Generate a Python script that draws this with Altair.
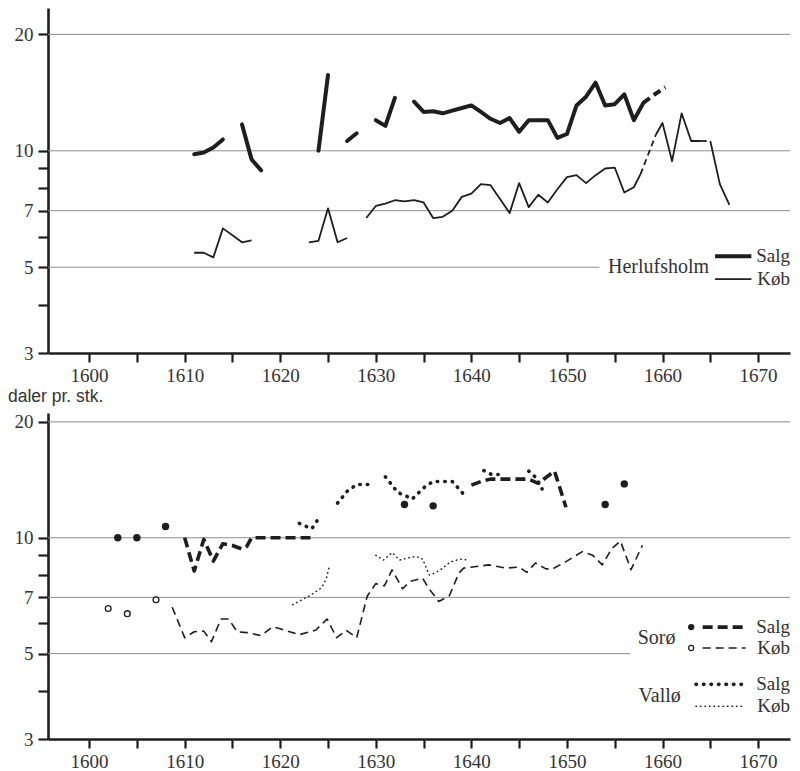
import altair as alt
import pandas as pd

INK = "#1e1e1e"
TXT = "#333333"
GRID = "#8e8e8e"

# ---------------- Herlufsholm (top panel) ----------------
HERL_SALG = [
    ([1611, 1612, 1613, 1614], [9.8, 9.9, 10.2, 10.7]),
    ([1616, 1617, 1618], [11.7, 9.5, 8.9]),
    ([1624, 1625], [10.0, 15.7]),
    ([1627, 1628], [10.6, 11.1]),
    ([1630, 1631, 1632], [12.0, 11.6, 13.7]),
    ([1634, 1635, 1636, 1637, 1638, 1639, 1640, 1641, 1642, 1643, 1644, 1645, 1646,
      1647, 1648, 1649, 1650, 1651, 1652, 1653, 1654, 1655, 1656, 1657, 1658],
     [13.4, 12.6, 12.65, 12.5, 12.7, 12.9, 13.1, 12.6, 12.1, 11.8, 12.15, 11.2, 12.0,
      12.0, 12.0, 10.8, 11.05, 13.1, 13.8, 15.0, 13.1, 13.2, 14.0, 12.0, 13.3]),
]
HERL_SALG_DASHED = [([1658, 1659, 1660.3], [13.3, 13.9, 14.6])]

HERL_KOB = [
    ([1611, 1612, 1613, 1614, 1615, 1616, 1617], [5.45, 5.45, 5.3, 6.3, 6.05, 5.8, 5.87]),
    ([1623, 1624, 1625, 1626, 1627], [5.8, 5.85, 7.1, 5.8, 5.95]),
    ([1629, 1630, 1631, 1632, 1633, 1634, 1635, 1636, 1637, 1638, 1639, 1640, 1641, 1642,
      1643, 1644, 1645, 1646, 1647, 1648, 1649, 1650, 1651, 1652, 1653, 1654, 1655, 1656,
      1657, 1657.7],
     [6.7, 7.2, 7.3, 7.45, 7.4, 7.45, 7.35, 6.7, 6.75, 7.0, 7.6, 7.75, 8.2, 8.15,
      7.5, 6.9, 8.25, 7.15, 7.7, 7.35, 7.95, 8.55, 8.65, 8.25, 8.65, 9.0, 9.05, 7.8,
      8.05, 8.7]),
    ([1659.3, 1660, 1661, 1662, 1663, 1664], [11.0, 11.8, 9.4, 12.5, 10.6, 10.6]),
    ([1665, 1666, 1667], [10.6, 8.2, 7.25]),
]
HERL_KOB_DASHED = [([1657.7, 1659.3], [8.7, 11.0]), ([1664, 1665], [10.6, 10.6])]

# ---------------- Sorø / Vallø (bottom panel) ----------------
SORO_SALG_PT_YEARS = [1603, 1605, 1608, 1633, 1636, 1654, 1656]
SORO_SALG_PT_VALUES = [10.0, 10.0, 10.7, 12.2, 12.1, 12.2, 13.8]
SORO_KOB_PT_YEARS = [1602, 1604, 1607]
SORO_KOB_PT_VALUES = [6.55, 6.35, 6.9]

SORO_SALG = [
    ([1610, 1611, 1612, 1613, 1614, 1615, 1616, 1616.5, 1617, 1623.3],
     [10.0, 8.2, 9.9, 8.7, 9.65, 9.55, 9.35, 9.5, 10.0, 10.0]),
    ([1640, 1641, 1642, 1643, 1644, 1645, 1646, 1647, 1648.7, 1649.9],
     [13.7, 14.0, 14.2, 14.2, 14.2, 14.2, 14.2, 13.85, 14.9, 12.0]),
]
SORO_KOB = [
    ([1608.7, 1610, 1611, 1612, 1612.8, 1613.8, 1614.6, 1615.5, 1616.5, 1618, 1619.2, 1620,
      1622, 1623.7, 1624.9, 1625.9, 1626.9, 1628, 1629.1, 1630, 1630.9, 1631.7, 1632.8,
      1633.6, 1634.9, 1635.6, 1636.6, 1637.7, 1638.7, 1639.2, 1641.8, 1643.6, 1645, 1645.8,
      1646.7, 1647.8, 1648.5, 1649.9, 1651.6, 1652.7, 1653.7, 1654.7, 1655.6, 1656.7, 1657.9],
     [6.6, 5.5, 5.7, 5.72, 5.37, 6.15, 6.15, 5.7, 5.67, 5.57, 5.87, 5.8,
      5.6, 5.75, 6.15, 5.5, 5.75, 5.5, 7.05, 7.6, 7.5, 8.25, 7.37,
      7.7, 7.85, 7.35, 6.83, 7.07, 8.1, 8.34, 8.5, 8.34, 8.39, 8.13,
      8.6, 8.3, 8.3, 8.67, 9.2, 9.0, 8.5, 9.38, 9.8, 8.26, 9.56]),
]
VALLO_SALG = [
    ([1622, 1623.3, 1624], [10.9, 10.55, 11.2]),
    ([1626, 1627, 1628, 1629.3], [12.3, 13.2, 13.75, 13.75]),
    ([1631, 1631.6, 1632.3, 1633, 1633.8, 1634.5, 1635.2, 1636, 1637, 1638, 1638.7, 1639.5],
     [14.4, 13.8, 13.1, 12.9, 12.6, 13.1, 13.6, 14.0, 14.0, 14.0, 13.4, 12.7]),
    ([1641.3, 1642.1, 1642.8], [14.95, 14.6, 14.6]),
    ([1646, 1646.8, 1647.4], [14.9, 14.3, 13.4]),
]
VALLO_KOB = [
    ([1621.3, 1623, 1624.3, 1624.8, 1625.1], [6.7, 7.05, 7.4, 7.8, 8.35]),
    ([1630, 1630.8, 1631.7, 1632.5, 1633.3, 1634.2, 1634.9, 1635.6, 1636.2, 1636.9, 1637.8,
      1638.8, 1639.8],
     [9.0, 8.75, 9.15, 8.75, 8.85, 8.95, 8.8, 8.0, 8.1, 8.3, 8.65, 8.8, 8.75]),
]

# axes / grid
X_TICKS = [1600, 1605, 1610, 1615, 1620, 1625, 1630, 1635, 1640, 1645, 1650, 1655, 1660, 1665, 1670]
Y_TICKS = [3, 4, 5, 6, 7, 8, 9, 10, 20]
Y_LABELED = [3, 5, 7, 10, 20]
GRID_FULL = [7, 10, 20]
X_DOMAIN = [1595.7, 1673.34]
UNIT_LABEL = ["daler pr. stk."]

# legend layout (in data units)
TOP_LEG_NAME = {"label": ["Herlufsholm"], "x": [1654.3], "y": [5.0]}
TOP_LEG_KIND = {"label": ["Salg", "Køb"], "x": [X_DOMAIN[1], X_DOMAIN[1]], "y": [5.34, 4.66]}
BOT_LEG_NAME = {"label": ["Sorø", "Vallø"], "x": [1657.4, 1657.5], "y": [5.49, 3.88]}
BOT_LEG_KIND = {"label": ["Salg", "Køb", "Salg", "Køb"], "x": [X_DOMAIN[1]] * 4,
                "y": [5.86, 5.17, 4.16, 3.65]}

PLOT_W = 742
xs = alt.Scale(domain=X_DOMAIN, nice=False, zero=False)


def yscale(top):
    return alt.Scale(type="log", domain=[3, top], nice=False)


X_AX = alt.Axis(values=X_TICKS, format="d",
                labelExpr="datum.value % 10 == 0 ? datum.label : ''", title=None)
Y_AX = alt.Axis(values=Y_TICKS, format="d",
                labelExpr="indexof(" + str(Y_LABELED) + ", datum.value) >= 0 ? datum.label : ''",
                title=None)


def seg_df(segments):
    rows = []
    for i, (yrs, vals) in enumerate(segments):
        for yr, v in zip(yrs, vals):
            rows.append({"year": yr, "value": v, "seg": i})
    return pd.DataFrame(rows)


def X(field="year"):
    return alt.X(f"{field}:Q", scale=xs, axis=X_AX)


def Y(ys, field="value"):
    return alt.Y(f"{field}:Q", scale=ys, axis=Y_AX)


def line_layer(segments, ys, width, dash=None, cap="butt"):
    kw = dict(strokeWidth=width, color=INK, strokeJoin="round", strokeCap=cap)
    if dash:
        kw["strokeDash"] = dash
    return alt.Chart(seg_df(segments)).mark_line(**kw).encode(
        x=X(), y=Y(ys), detail="seg:N")


def grid_layers(ys, partial_end):
    full = alt.Chart(pd.DataFrame({"value": GRID_FULL})).mark_rule(
        color=GRID, strokeWidth=1).encode(y=Y(ys))
    part = alt.Chart(pd.DataFrame({"value": [5], "year": [X_DOMAIN[0]], "year2": [partial_end]})).mark_rule(
        color=GRID, strokeWidth=1).encode(y=Y(ys), x=X(), x2="year2:Q")
    return [full, part]


def text_layer(d, ys, align, size=20):
    df = pd.DataFrame(d)
    return alt.Chart(df).mark_text(
        align=align, baseline="middle", font="Liberation Serif", fontSize=size,
        color=TXT).encode(
        x=alt.X("x:Q", scale=xs, axis=X_AX), y=alt.Y("y:Q", scale=ys, axis=Y_AX), text="label:N")


def leg_rule(x1, x2, y, ys, width, dash=None, cap="butt"):
    kw = dict(strokeWidth=width, color=INK, strokeCap=cap)
    if dash:
        kw["strokeDash"] = dash
    df = pd.DataFrame({"x": [x1], "x2": [x2], "y": [y]})
    return alt.Chart(df).mark_rule(**kw).encode(
        x=alt.X("x:Q", scale=xs, axis=X_AX), x2="x2:Q", y=alt.Y("y:Q", scale=ys, axis=Y_AX))


# ---------------- top panel ----------------
ys_top = yscale(23.4)
top_layers = grid_layers(ys_top, 1653.4) + [
    line_layer(HERL_KOB, ys_top, 1.8),
    line_layer(HERL_KOB_DASHED, ys_top, 1.8, dash=[6, 4]),
    line_layer(HERL_SALG, ys_top, 4.0, cap="round"),
    line_layer(HERL_SALG_DASHED, ys_top, 4.0, dash=[8, 5]),
    leg_rule(1665.5, 1669.3, 5.34, ys_top, 4.0),
    leg_rule(1665.5, 1669.3, 4.66, ys_top, 1.8),
    text_layer(TOP_LEG_NAME, ys_top, "left"),
    text_layer(TOP_LEG_KIND, ys_top, "right", 19),
]
top = alt.layer(*top_layers).properties(width=PLOT_W, height=345)

# ---------------- bottom panel ----------------
ys_bot = yscale(21.09)
salg_pts = alt.Chart(pd.DataFrame({"year": SORO_SALG_PT_YEARS, "value": SORO_SALG_PT_VALUES})).mark_circle(
    size=55, color=INK, opacity=1).encode(x=X(), y=Y(ys_bot))
kob_pts = alt.Chart(pd.DataFrame({"year": SORO_KOB_PT_YEARS, "value": SORO_KOB_PT_VALUES})).mark_point(
    shape="circle", size=34, color=INK, filled=False, strokeWidth=1.3, opacity=1).encode(x=X(), y=Y(ys_bot))

leg_circle_f = alt.Chart(pd.DataFrame({"x": [1663.0], "y": [5.86]})).mark_circle(
    size=40, color=INK, opacity=1).encode(x=alt.X("x:Q", scale=xs, axis=X_AX), y=alt.Y("y:Q", scale=ys_bot, axis=Y_AX))
leg_circle_o = alt.Chart(pd.DataFrame({"x": [1663.0], "y": [5.17]})).mark_point(
    shape="circle", size=26, color=INK, filled=False, strokeWidth=1.2, opacity=1).encode(
    x=alt.X("x:Q", scale=xs, axis=X_AX), y=alt.Y("y:Q", scale=ys_bot, axis=Y_AX))

unit_text = alt.Chart(pd.DataFrame({"label": UNIT_LABEL})).mark_text(
    align="left", baseline="alphabetic", font="Liberation Sans", fontSize=17.5, color=TXT
).encode(x=alt.value(-40), y=alt.value(-11), text="label:N")

bot_layers = grid_layers(ys_bot, 1656.6) + [
    line_layer(SORO_KOB, ys_bot, 1.6, dash=[8, 5]),
    line_layer(VALLO_KOB, ys_bot, 1.5, dash=[0.5, 4], cap="round"),
    line_layer(SORO_SALG, ys_bot, 3.6, dash=[10, 5]),
    line_layer(VALLO_SALG, ys_bot, 3.6, dash=[0.5, 7], cap="round"),
    salg_pts, kob_pts,
    leg_circle_f, leg_circle_o,
    leg_rule(1664.2, 1668.7, 5.86, ys_bot, 3.6, dash=[10, 5]),
    leg_rule(1664.2, 1668.7, 5.17, ys_bot, 1.6, dash=[8, 5]),
    leg_rule(1663.5, 1668.5, 4.16, ys_bot, 3.6, dash=[0.5, 7], cap="round"),
    leg_rule(1663.5, 1668.5, 3.65, ys_bot, 1.5, dash=[0.5, 4], cap="round"),
    text_layer(BOT_LEG_NAME, ys_bot, "left"),
    text_layer(BOT_LEG_KIND, ys_bot, "right", 19),
    unit_text,
]
bottom = alt.layer(*bot_layers).properties(width=PLOT_W, height=326)

chart = alt.vconcat(top, bottom, spacing=3).properties(
    padding={"left": 0, "top": 0, "right": 0, "bottom": 0}
).configure_view(stroke=None).configure_axis(
    labelFont="Liberation Serif", labelFontSize=19, labelColor=TXT,
    tickColor=INK, tickWidth=2.2, domainColor=INK, domainWidth=2.6,
    grid=False, labelFlush=False, labelOverlap=False,
).configure_axisX(tickSize=9, labelPadding=4).configure_axisY(tickSize=10, labelPadding=5)

chart.save("out.html", embed_options={"renderer": "svg", "actions": False})
